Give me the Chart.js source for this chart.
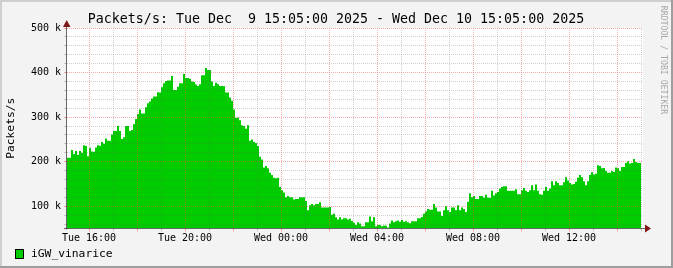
<!DOCTYPE html>
<html lang="en">
<head>
<meta charset="UTF-8">
<title>Packets/s - iGW_vinarice</title>
<script src="https://cdn.jsdelivr.net/npm/chart.js"></script>
<style>
  html, body { margin: 0; padding: 0; background: #f3f3f3; }
  canvas { display: block; }
</style>
</head>
<body>
<canvas id="rrd" width="673" height="268"></canvas>
<script>
// k packets/s, one value per 5 minutes, starting Tue Dec 9 15:05
const tueAfternoon = [222, 209, 209, 226, 217, 224, 215, 224, 220, 237, 235, 212, 231, 223, 222, 232,
  237, 236, 244, 240, 252, 247, 247, 261, 269, 269, 280, 269, 251, 255, 280, 280,
  269, 271, 284, 296, 307, 317, 308, 308, 322, 331, 335, 342, 346, 346, 356, 355];
const tueEvening = [367, 376, 381, 382, 382, 392, 361, 361, 368, 376, 376, 397, 388, 388, 386, 380,
  379, 373, 370, 374, 394, 394, 410, 406, 406, 380, 370, 377, 374, 370, 370, 369,
  355, 355, 344, 337, 317, 298, 299, 293, 282, 280, 274, 282, 247, 250, 244, 242];
const wedNight = [235, 211, 205, 187, 190, 185, 175, 170, 164, 163, 164, 143, 136, 131, 120, 123,
  120, 120, 115, 116, 116, 120, 120, 120, 112, 91, 102, 105, 102, 105, 105, 109,
  97, 97, 97, 97, 98, 81, 83, 75, 70, 75, 70, 73, 73, 70, 72, 67];
const wedEarly = [63, 58, 64, 61, 55, 55, 64, 64, 77, 66, 75, 55, 58, 58, 55, 57,
  56, 52, 61, 68, 64, 66, 68, 65, 69, 65, 66, 64, 62, 66, 66, 66,
  73, 73, 76, 83, 88, 94, 92, 92, 105, 97, 88, 88, 78, 91, 100, 91];
const wedMorning = [87, 97, 97, 91, 102, 91, 97, 94, 87, 110, 129, 120, 123, 116, 116, 123,
  123, 119, 126, 119, 119, 135, 124, 129, 132, 140, 143, 145, 145, 135, 135, 135,
  135, 138, 127, 127, 136, 141, 135, 132, 136, 147, 136, 149, 135, 127, 126, 135];
const wedMidday = [143, 135, 140, 156, 147, 156, 152, 147, 147, 154, 165, 158, 152, 149, 150, 155,
  164, 170, 165, 156, 147, 156, 170, 176, 171, 173, 192, 190, 185, 186, 179, 175,
  175, 179, 177, 187, 185, 179, 188, 188, 197, 201, 196, 197, 206, 199, 197];

const packets = [].concat(tueAfternoon, tueEvening, wedNight, wedEarly, wedMorning, wedMidday);
const stepMin = 5;
const startMin = 15 * 60 + 5;      // 15:05
const spanMin = 24 * 60;
const firstHourMin = 55;           // 16:00
const xTickLabels = ['Tue 16:00', 'Tue 20:00', 'Wed 00:00', 'Wed 04:00', 'Wed 08:00', 'Wed 12:00'];
const yMajor = [100, 200, 300, 400, 500];
const yMin = 50, yMax = 500, yMinorStep = 20;

const titleText = 'Packets/s: Tue Dec  9 15:05:00 2025 - Wed Dec 10 15:05:00 2025';
const seriesName = 'iGW_vinarice';
const green = '#00cc00';
const mono = '"DejaVu Sans Mono", "Liberation Mono", monospace';

// step data: each value covers its 5 minute slot
const points = packets.map((v, i) => ({ x: i * stepMin, y: v }));
points.push({ x: packets.length * stepMin, y: packets[packets.length - 1] });

const isEvenHour = m => Math.round((startMin + m) / 60) % 2 === 0;
// pale colours; the dots are only 1px so keep them light
const mgrid = 'rgba(235,70,70,0.45)';
const grid = 'rgba(100,100,100,0.3)';

const decor = {
  id: 'decor',
  beforeDraw(chart) {
    const c = chart.ctx, a = chart.chartArea;
    c.save();
    c.fillStyle = '#f3f3f3';
    c.fillRect(0, 0, chart.width, chart.height);
    c.fillStyle = '#cfcfcf';
    c.fillRect(0, 0, chart.width, 2);
    c.fillRect(0, 0, 2, chart.height);
    c.fillStyle = '#9e9e9e';
    c.fillRect(chart.width - 2, 0, 2, chart.height);
    c.fillRect(0, chart.height - 2, chart.width, 2);
    c.fillStyle = '#ffffff';
    c.fillRect(a.left, a.top, a.right - a.left, a.bottom - a.top);
    c.restore();
  },
  afterDraw(chart) {
    const c = chart.ctx, a = chart.chartArea;
    c.save();
    // axes
    c.strokeStyle = 'rgba(30,30,30,0.65)';
    c.lineWidth = 1;
    c.beginPath();
    c.moveTo(66.5, a.top - 5);
    c.lineTo(66.5, a.bottom + 1);
    c.moveTo(a.left - 3, a.bottom);
    c.lineTo(a.right + 3, a.bottom);
    c.stroke();
    // arrows
    c.fillStyle = '#7f1818';
    c.beginPath();
    c.moveTo(63, a.top - 1); c.lineTo(70.5, a.top - 1); c.lineTo(66.7, a.top - 8);
    c.closePath(); c.fill();
    c.beginPath();
    c.moveTo(a.right + 2, a.bottom - 4); c.lineTo(a.right + 2, a.bottom + 4); c.lineTo(a.right + 8, a.bottom);
    c.closePath(); c.fill();
    // title
    c.fillStyle = '#000';
    c.font = '13.3px ' + mono;
    c.textAlign = 'center';
    c.textBaseline = 'alphabetic';
    c.fillText(titleText, 336, 23);
    // y label
    c.font = '11.3px ' + mono;
    c.save();
    c.translate(11, (a.top + a.bottom) / 2);
    c.rotate(-Math.PI / 2);
    c.textBaseline = 'middle';
    c.fillText('Packets/s', 0, 0);
    c.restore();
    // watermark
    c.save();
    c.translate(663, 60);
    c.rotate(Math.PI / 2);
    c.font = '8.2px ' + mono;
    c.fillStyle = '#a8a8a8';
    c.textBaseline = 'middle';
    c.fillText('RRDTOOL / TOBI OETIKER', 0, 0);
    c.restore();
    // legend
    c.fillStyle = green;
    c.fillRect(15, 249, 9, 10);
    c.strokeStyle = '#000';
    c.strokeRect(15.5, 249.5, 8, 9);
    c.fillStyle = '#000';
    c.textAlign = 'left';
    c.textBaseline = 'middle';
    c.font = '11.3px ' + mono;
    c.fillText(seriesName, 31, 254.5);
    c.restore();
  }
};

Chart.defaults.font.family = mono;
Chart.defaults.font.size = 10;
Chart.defaults.color = '#000';

new Chart(document.getElementById('rrd'), {
  type: 'line',
  data: {
    datasets: [{
      label: seriesName,
      data: points,
      stepped: 'after',
      fill: 'start',
      backgroundColor: green,
      borderWidth: 0,
      pointRadius: 0
    }]
  },
  options: {
    responsive: false,
    animation: false,
    layout: { padding: { left: 0, right: 30, top: 28, bottom: 19.5 } },
    scales: {
      x: {
        type: 'linear',
        min: 0,
        max: spanMin,
        afterBuildTicks(scale) {
          const t = [];
          for (let m = firstHourMin; m < spanMin; m += 60) t.push({ value: m });
          scale.ticks = t;
        },
        afterFit(scale) { scale.height = 20; },
        ticks: {
          autoSkip: false,
          maxRotation: 0,
          padding: 1,
          callback: v => ((v - firstHourMin) % 240 === 0 ? xTickLabels[(v - firstHourMin) / 240] : '')
        },
        grid: {
          z: 1,
          color: ctx => (isEvenHour(ctx.tick.value) ? mgrid : grid),
          tickColor: ctx => (isEvenHour(ctx.tick.value) ? mgrid : grid),
          tickLength: 3
        },
        border: { display: false, dash: [1, 1] }
      },
      y: {
        min: yMin,
        max: yMax,
        afterBuildTicks(scale) {
          const t = [];
          for (let v = yMin + 10; v <= yMax; v += yMinorStep) t.push({ value: v });
          scale.ticks = t;
        },
        afterFit(scale) { scale.width = 67; },
        ticks: {
          autoSkip: false,
          padding: 3,
          callback: v => (yMajor.includes(v) ? v + ' k' : '')
        },
        grid: {
          z: 1,
          color: ctx => (yMajor.includes(ctx.tick.value) ? mgrid : grid),
          tickColor: ctx => (yMajor.includes(ctx.tick.value) ? mgrid : grid),
          tickLength: 3
        },
        border: { display: false, dash: [1, 1] }
      }
    },
    plugins: {
      legend: { display: false },
      tooltip: { enabled: false }
    }
  },
  plugins: [decor]
});
</script>
</body>
</html>
